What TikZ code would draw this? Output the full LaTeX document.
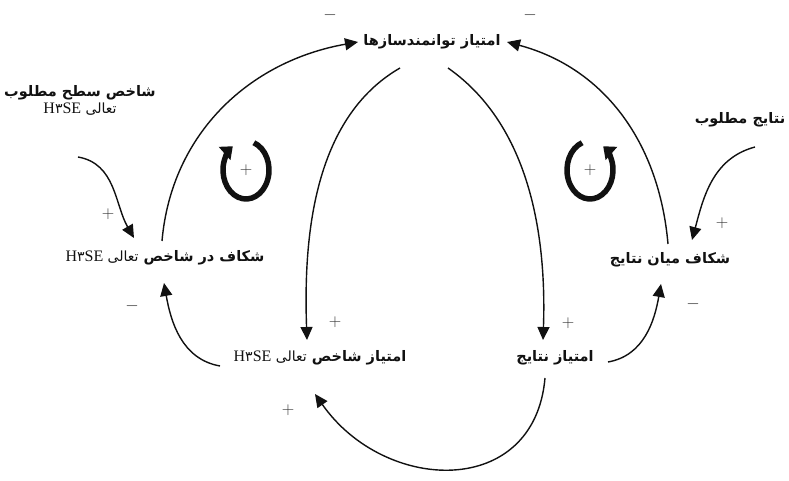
\documentclass[tikz,border=0pt]{standalone}
\usepackage{fontspec}
\usepackage{tikz}
\usetikzlibrary{positioning, arrows.meta, calc}
\TeXXeTstate=1
\newfontfamily\arabicfont[Script=Arabic]{DejaVu Sans}
\newfontfamily\latinser{Liberation Serif}
\newcommand{\hse}{\beginL{\latinser\fontsize{16}{18}\selectfont H}{\arabicfont\char"06F3}%
  {\latinser\fontsize{16}{18}\selectfont SE}\endL}
\newcommand{\subtxt}[1]{{\mdseries\fontsize{14}{16}\selectfont #1}}
\definecolor{LoopBG}{HTML}{FFFFFF}
\definecolor{LoopInk}{HTML}{111111}
\definecolor{LoopSign}{HTML}{333333}
\tikzset{
  cldvar/.style  = {font=\arabicfont\bfseries\fontsize{14.5}{17}\selectfont,
                    text=LoopInk, inner sep=2pt, align=center},
  cldarr/.style  = {-{Triangle[length=13pt, width=12pt]}, LoopInk, line width=1.4pt},
  cldloop/.style = {-{Triangle[length=11pt, width=17pt]}, LoopInk, line width=5.5pt},
  cldsign/.style = {font=\LARGE, text=LoopSign, inner sep=0pt},
}

\begin{document}
\begin{tikzpicture}[x=1pt, y=1pt]
    \fill[LoopBG] (0,0) rectangle (789,481);
    \useasboundingbox (0,0) rectangle (789,481);
    % variables
    \node[cldvar] (top) at (432,439) {\beginR امتیاز توانمندسازها\endR};
    \node[cldvar] (goalidx) at (80,381) {\beginR شاخص سطح مطلوب\endR\\
      \subtxt{\beginR تعالی \hse\endR}};
    \node[cldvar] (gapidx) at (165,223) {\beginR شکاف در شاخص \subtxt{تعالی \hse}\endR};
    \node[cldvar] (goalres) at (740,361) {\beginR نتایج مطلوب\endR};
    \node[cldvar] (gapres) at (670,221) {\beginR شکاف میان نتایج\endR};
    \node[cldvar] (idxscore) at (320,123) {\beginR امتیاز شاخص \subtxt{تعالی \hse}\endR};
    \node[cldvar] (resscore) at (555,123) {\beginR امتیاز نتایج\endR};
    % links
    \draw[cldarr] ($(goalidx)+(-2,-57)$) to[out=-10, in=120] ($(gapidx)+(-31,20)$);
    \draw[cldarr] ($(gapidx)+(-3,17)$) to[out=85, in=190] ($(top)+(-74,0)$);
    \draw[cldarr] ($(idxscore)+(-100,-8)$) to[out=170, in=-80] ($(gapidx)+(-1,-25)$);
    \draw[cldarr] ($(top)+(-32,-26)$) to[out=210, in=92, looseness=0.9] ($(idxscore)+(-13,18)$);
    \draw[cldarr] ($(top)+(16,-26)$) to[out=-35, in=88, looseness=0.9] ($(resscore)+(-12,18)$);
    \draw[cldarr] ($(resscore)+(53,-4)$) to[out=10, in=-100] ($(gapres)+(-9,-24)$);
    \draw[cldarr] ($(goalres)+(15,-27)$) to[out=195, in=75] ($(gapres)+(22,20)$);
    \draw[cldarr] ($(gapres)+(-2,16)$) to[out=95, in=-15] ($(top)+(75,0)$);
    \draw[cldarr] ($(resscore)+(-10,-20)$) to[out=-95, in=-55, looseness=1.35] ($(idxscore)+(-5,-36)$);
    % polarities
    \node[cldsign] (s1) at (108,267) {$+$};
    \node[cldsign] (s2) at (330,466) {$-$};
    \node[cldsign] (s3) at (132,175) {$-$};
    \node[cldsign] (s4) at (335,159) {$+$};
    \node[cldsign] (s5) at (568,158) {$+$};
    \node[cldsign] (s6) at (693,177) {$-$};
    \node[cldsign] (s7) at (722,258) {$+$};
    \node[cldsign] (s8) at (530,466) {$-$};
    \node[cldsign] (s9) at (288,71) {$+$};
    % loops
    \node[cldsign] (loopl) at (246,311) {$+$};
    \node[cldsign] (loopr) at (590,311) {$+$};
    \draw[cldloop] ([shift={(70:23 and 29)}]loopl.center)
      arc[start angle=70, end angle=-235, x radius=23, y radius=29];
    \draw[cldloop] ([shift={(110:23 and 29)}]loopr.center)
      arc[start angle=110, end angle=415, x radius=23, y radius=29];
  \end{tikzpicture}
\end{document}
